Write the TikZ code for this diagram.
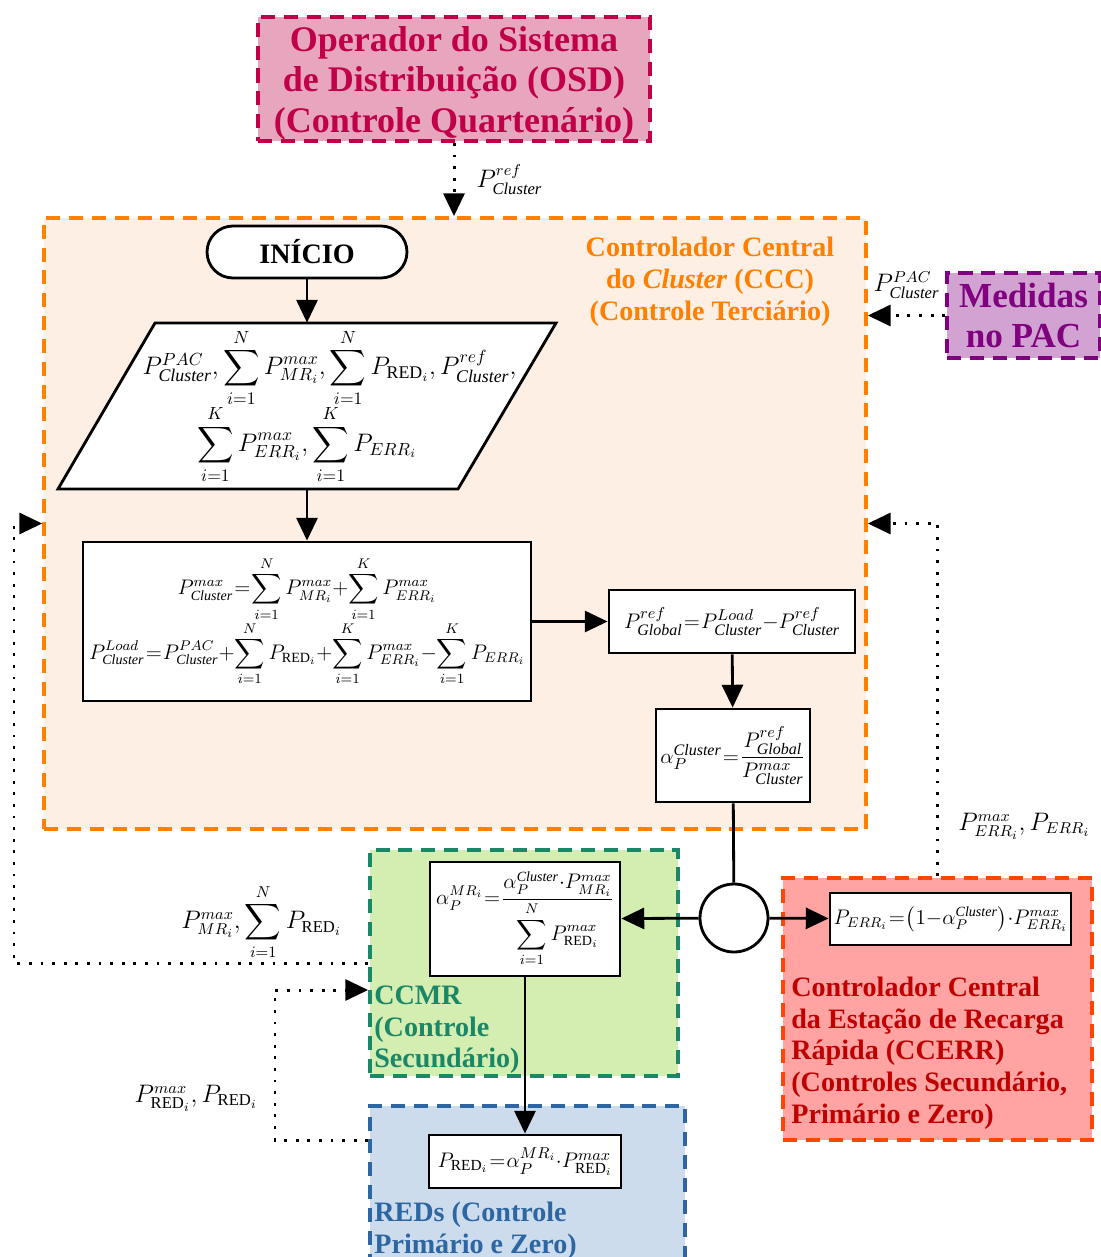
\documentclass[tikz,border=0pt]{standalone}
\usepackage{amsmath}
\usepackage{fontspec}
\setmainfont{Liberation Serif}
\usetikzlibrary{arrows.meta}

\definecolor{osdtxt}{HTML}{C00048}
\definecolor{osdfill}{HTML}{E8A6BE}
\definecolor{ccctxt}{HTML}{FF8000}
\definecolor{cccfill}{HTML}{FDEFE3}
\definecolor{pactxt}{HTML}{800080}
\definecolor{pacfill}{HTML}{D2A2D2}
\definecolor{ccmrtxt}{HTML}{1A8767}
\definecolor{ccmrfill}{HTML}{D4EDB0}
\definecolor{redtxt}{HTML}{2D66A3}
\definecolor{redfill}{HTML}{CCDCEC}
\definecolor{errborda}{HTML}{FF4500}
\definecolor{errtxt}{HTML}{C00000}
\definecolor{errfill}{HTML}{FFA3A3}

\newcommand{\Cl}{\mathit{Cluster}}
% espacamento apertado nas equacoes
\AtBeginDocument{\thickmuskip=1mu \medmuskip=0mu}

\begin{document}
\begin{tikzpicture}[
  x = 0.02cm, y = -0.02cm,
  caixa/.style = {draw, line width=1.6pt, fill=white, inner sep=1pt, align=center},
  regiao/.style = {dash pattern=on 8pt off 5pt, line width=2.2pt},
  seta/.style = {line width=1.6pt, -{Triangle[length=13pt,width=12pt]}},
  pontilhado/.style = {line width=1.7pt, dash pattern=on 1.6pt off 5pt,
    -{Triangle[length=13pt,width=12pt]}},
  titulo/.style = {font=\bfseries\fontsize{16}{18}\selectfont, align=left, inner sep=0pt},
  eqg/.style = {font=\fontsize{13}{16}\selectfont},
  rotulo/.style = {font=\fontsize{13.5}{16}\selectfont, inner sep=0pt},
]
\useasboundingbox (0,0) rectangle (1100,1257);

% regioes de controle
\node[regiao, draw=ccctxt, fill=cccfill, minimum width=16.44cm, minimum height=12.22cm]
  (ccc) at (455,523.5) {};
\node[regiao, draw=ccmrtxt, fill=ccmrfill, minimum width=6.16cm, minimum height=4.52cm]
  (ccmr) at (524,963) {};
\node[regiao, draw=redtxt, fill=redfill, minimum width=6.3cm, minimum height=3.18cm]
  (reds) at (527.5,1185.5) {};
\node[regiao, draw=errborda, fill=errfill, minimum width=6.18cm, minimum height=5.24cm]
  (ccerr) at (937.5,1009) {};
\node[regiao, draw=osdtxt, fill=osdfill, minimum width=7.84cm, minimum height=2.48cm]
  (osd) at (454,79) {};
\node[text=osdtxt, align=center, font=\bfseries\fontsize{20.5}{23}\selectfont]
  at (454,83) {Operador do Sistema\\de Distribuição (OSD)\\(Controle Quartenário)};
\node[regiao, draw=pactxt, fill=pacfill, minimum width=3.06cm, minimum height=1.70cm,
  text=pactxt, align=center, font=\bfseries\fontsize{20}{23}\selectfont]
  (pac) at (1023.5,315.5) {Medidas\\no PAC};

\node[titulo, text=ccctxt, align=center, anchor=north] at (710,237)
  {Controlador Central\\do \textit{Cluster} (CCC)\\(Controle Terciário)};
\node[titulo, text=ccmrtxt, anchor=west] at (374,1030)
  {CCMR\\(Controle\\Secundário)};
\node[titulo, text=redtxt, anchor=west] at (374,1231)
  {REDs (Controle\\Primário e Zero)};
\node[titulo, text=errtxt, anchor=west] at (791,1053)
  {Controlador Central\\da Estação de Recarga\\Rápida (CCERR)\\(Controles Secundário,\\Primário e Zero)};

% fluxograma
\node[draw, line width=1.6pt, fill=white, rounded corners=0.52cm, minimum width=4cm,
  minimum height=1.04cm, font=\bfseries\fontsize{16}{18}\selectfont]
  (inicio) at (307,252) {INÍCIO};
% paralelogramo de entrada
\draw[line width=1.6pt, fill=white] (155,323) -- (556,323) -- (458,489) -- (58,489) -- cycle;
\node[minimum height=3.32cm, align=center, inner sep=0pt, font=\fontsize{14.5}{17}\selectfont]
  (entrada) at (307,406)
  {\hspace*{0.9cm}$P^{PAC}_{\Cl},\displaystyle\sum_{i=1}^{N}P^{max}_{MR_i},\sum_{i=1}^{N}P_{\mathrm{RED}_i},P^{ref}_{\Cl},$\\[-2pt]
   $\displaystyle\sum_{i=1}^{K}P^{max}_{ERR_i},\sum_{i=1}^{K}P_{ERR_i}$};
\node[caixa, minimum width=8.96cm, minimum height=3.18cm, font=\fontsize{12}{14}\selectfont]
  (calc) at (307,621.5)
  {$\displaystyle P^{max}_{\Cl}=\sum_{i=1}^{N}P^{max}_{MR_i}+\sum_{i=1}^{K}P^{max}_{ERR_i}$\\[-1pt]
   $\displaystyle P^{Load}_{\Cl}=P^{PAC}_{\Cl}+\sum_{i=1}^{N}P_{\mathrm{RED}_i}+\sum_{i=1}^{K}P^{max}_{ERR_i}-\sum_{i=1}^{K}P_{ERR_i}$};
\node[caixa, eqg, minimum width=4.92cm, minimum height=1.26cm]
  (global) at (732,621.5) {$P^{ref}_{\mathit{Global}}=P^{Load}_{\Cl}-P^{ref}_{\Cl}$};
\node[caixa, eqg, minimum width=3.08cm, minimum height=1.86cm]
  (alfa) at (733,755.5) {$\alpha^{\Cl}_{P}=\dfrac{P^{ref}_{\mathit{Global}}}{P^{max}_{\Cl}}$};
\node[draw, circle, line width=1.6pt, fill=white, minimum size=1.36cm]
  (junta) at (734,918) {};
\node[caixa, minimum width=3.8cm, minimum height=2.28cm, font=\fontsize{12}{15}\selectfont]
  (alfamr) at (525,919)
  {$\alpha^{MR_i}_{P}=\dfrac{\alpha^{\Cl}_{P}\cdot P^{max}_{MR_i}}{\displaystyle\sum_{i=1}^{N}P^{max}_{\mathrm{RED}_i}}$};
\node[caixa, minimum width=4.82cm, minimum height=1.04cm, font=\fontsize{12}{15}\selectfont]
  (perr) at (950.5,919) {$P_{ERR_i}=\bigl(1-\alpha^{\Cl}_{P}\bigr)\cdot P^{max}_{ERR_i}$};
\node[caixa, minimum width=3.84cm, minimum height=1.06cm, font=\fontsize{12.5}{15}\selectfont]
  (pred) at (525,1161.5) {$P_{\mathrm{RED}_i}=\alpha^{MR_i}_{P}\cdot P^{max}_{\mathrm{RED}_i}$};

\draw[seta] (inicio) -- (entrada);
\draw[seta] (entrada) -- (calc);
\draw[seta] (calc) -- (global);
\draw[seta] (global) -- (alfa);
\draw[line width=1.6pt] (alfa) -- (junta);
\draw[seta] (junta) -- (alfamr);
\draw[seta] (junta) -- (perr);
\draw[seta] (alfamr) -- (pred);

% sinais entre os niveis
\coordinate (voltaE) at (14,963);
\coordinate (voltaB) at (275,1140);
\coordinate (voltaC) at (275,990);
\draw[pontilhado] (osd.south) -- (osd.south |- ccc.north)
  node[rotulo, midway, right=12pt] {$P^{ref}_{\Cl}$};
\draw[pontilhado] (pac.west) -- (pac.west -| ccc.east)
  node[rotulo, midway, above=9pt] {$P^{PAC}_{\Cl}$};
\draw[pontilhado] (ccerr.north) |- (ccc.east);
\draw[pontilhado] (ccmr.west) -- (voltaE) |- (ccc.west);
\draw[pontilhado] (voltaB -| reds.west) -- (voltaB) -- (voltaC) -- (voltaC -| ccmr.west);

\node[rotulo, anchor=west] at (958,826) {$P^{max}_{ERR_i},P_{ERR_i}$};
\node[rotulo, anchor=east] at (342,922) {$P^{max}_{MR_i},\displaystyle\sum_{i=1}^{N}P_{\mathrm{RED}_i}$};
\node[rotulo, anchor=east] at (258,1098) {$P^{max}_{\mathrm{RED}_i},P_{\mathrm{RED}_i}$};
\end{tikzpicture}
\end{document}
